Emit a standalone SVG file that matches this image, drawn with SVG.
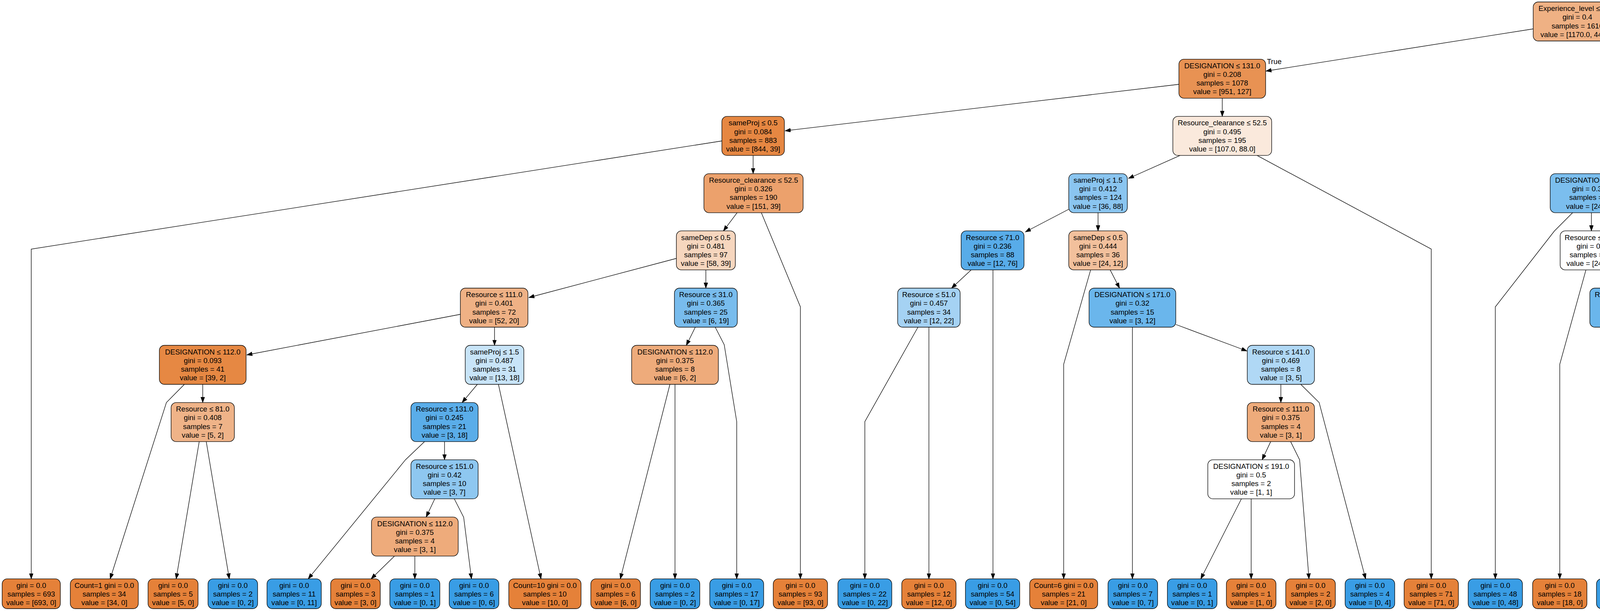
<svg xmlns="http://www.w3.org/2000/svg" width="5049" height="1565" viewBox="0 0 5049 1565">
<style>
.n rect{stroke:#000;stroke-width:1.33}
text{font-family:"Liberation Sans",Arial,Helvetica,sans-serif;font-size:18.67px;text-anchor:middle;fill:#000}
.e path{fill:none;stroke:#000;stroke-width:1.33;marker-end:url(#arr)}
.o{fill:#e58139}
.b{fill:#399de5}
.w{fill:#ffffff}
</style>
<defs>
<marker id="arr" markerUnits="userSpaceOnUse" markerWidth="15" markerHeight="11" refX="14" refY="5" orient="auto"><path d="M0,0 L14,5 L0,10 z" fill="#000" stroke="#000" stroke-width="1"/></marker>
</defs>
<rect x="0" y="0" width="5049" height="1565" fill="#ffffff"/>
<g id="edges" class="e">
<path d="M3925,74 L3241,182"/>
<path d="M4115,104 L4188,151"/>
<path d="M3018,216 L2010,335"/>
<path d="M3129,251.6 L3129,298.2"/>
<path d="M4267,251.6 L4267,298.2"/>
<path d="M4375,234 L4667,312"/>
<path d="M1848,361 L80,638 L80,1482.7"/>
<path d="M1928,398.2 L1928,444.8"/>
<path d="M3021,398.2 L2889,457"/>
<path d="M3218,398.2 L3664,638 L3664,1482.7"/>
<path d="M4202,398.2 L4140,444.8"/>
<path d="M4328,398.2 L4630,638 L4630,1482.7"/>
<path d="M4799,398.2 L4799,1482.7"/>
<path d="M4827,398.2 L4968,638 L4968,1482.7"/>
<path d="M1887,544.8 L1852,591.4"/>
<path d="M1949,544.8 L2049,786 L2049,1482.7"/>
<path d="M2736,536 L2625,594"/>
<path d="M2811,544.8 L2811,591.4"/>
<path d="M4026,544.8 L3979,592 L3828,786 L3828,1482.7"/>
<path d="M4074,544.8 L4074,591.4"/>
<path d="M1731,662 L1354,762"/>
<path d="M1807,691.4 L1807,738"/>
<path d="M2486,691.4 L2436,738"/>
<path d="M2542,691.4 L2542,1482.7"/>
<path d="M2792,691.4 L2723,933 L2723,1482.7"/>
<path d="M2842,691.4 L2866,738"/>
<path d="M4060,691.4 L3993,933 L3993,1482.7"/>
<path d="M4102,691.4 L4124,738"/>
<path d="M1179,805 L632,909"/>
<path d="M1266,838 L1266,884.5"/>
<path d="M1780,838 L1757,884.5"/>
<path d="M1831,838 L1854,883 L1886,1080 L1886,1482.7"/>
<path d="M2350,838 L2214,1080 L2214,1482.7"/>
<path d="M2378,838 L2378,1482.7"/>
<path d="M2899,838 L2899,1482.7"/>
<path d="M3010,831 L3192,899"/>
<path d="M4156,838 L4156,1482.7"/>
<path d="M4210,838 L4258,884.5"/>
<path d="M472,984.5 L426,1031 L282,1482.7"/>
<path d="M519,984.5 L519,1031.1"/>
<path d="M1222,984.5 L1183,1031.1"/>
<path d="M1276,984.5 L1385,1482.7"/>
<path d="M1715,984.5 L1588,1482.7"/>
<path d="M1728,984.5 L1728,1482.7"/>
<path d="M3279,984.5 L3279,1031.1"/>
<path d="M3330,984.5 L3377,1031 L3496,1482.7"/>
<path d="M4314,984.5 L4314,1482.7"/>
<path d="M4326,984.5 L4455,1482.7"/>
<path d="M510,1131.1 L451,1482.7"/>
<path d="M528,1131.1 L587,1482.7"/>
<path d="M1087,1131.1 L1038,1177.7 L789,1482.7"/>
<path d="M1138,1131.1 L1138,1177.7"/>
<path d="M3253,1131.1 L3231,1177.7"/>
<path d="M3304,1131.1 L3327,1177.7 L3351,1482.7"/>
<path d="M1113,1277.7 L1091,1324.3"/>
<path d="M1163,1277.7 L1187,1325 L1207,1482.7"/>
<path d="M3178,1277.7 L3074,1482.7"/>
<path d="M3203,1277.7 L3203,1482.7"/>
<path d="M1010,1424.3 L950,1482.7"/>
<path d="M1062,1424.3 L1062,1482.7"/>
</g>
<g id="edge-labels">
<text x="3262" y="164">True</text>
<text x="4182.5" y="126">False</text>
</g>
<g id="n0" class="n"><rect x="3925" y="5" width="226" height="100" rx="13" fill="#efb184"/><text x="4038" y="28.2">Experience_level ≤ 35.5</text><text x="4038" y="50.3">gini = 0.4</text><text x="4038" y="72.5">samples = 1616</text><text x="4038" y="94.7">value = [1170.0, 446.0]</text></g>
<g id="n1" class="n"><rect x="3018" y="151.6" width="222" height="100" rx="13" fill="#e89253"/><text x="3129" y="174.8">DESIGNATION ≤ 131.0</text><text x="3129" y="196.9">gini = 0.208</text><text x="3129" y="219.1">samples = 1078</text><text x="3129" y="241.3">value = [951, 127]</text></g>
<g id="n2" class="n"><rect x="4155" y="151.6" width="222" height="100" rx="13" fill="#c1e0f7"/><text x="4266" y="174.8">Experience_level ≤ 36.5</text><text x="4266" y="196.9">gini = 0.483</text><text x="4266" y="219.1">samples = 538</text><text x="4266" y="241.3">value = [219, 319]</text></g>
<g id="n3" class="n"><rect x="1848" y="298.2" width="160" height="100" rx="13" fill="#e68742"/><text x="1928" y="321.4">sameProj ≤ 0.5</text><text x="1928" y="343.5">gini = 0.084</text><text x="1928" y="365.7">samples = 883</text><text x="1928" y="387.9">value = [844, 39]</text></g>
<g id="n4" class="n"><rect x="3002.5" y="298.2" width="253" height="100" rx="13" fill="#fae9dc"/><text x="3129" y="321.4">Resource_clearance ≤ 52.5</text><text x="3129" y="343.5">gini = 0.495</text><text x="3129" y="365.7">samples = 195</text><text x="3129" y="387.9">value = [107.0, 88.0]</text></g>
<g id="n5" class="n"><rect x="4162.5" y="298.2" width="209" height="100" rx="13" fill="#4ca6e7"/><text x="4267" y="321.4">DESIGNATION ≤ 51.0</text><text x="4267" y="343.5">gini = 0.161</text><text x="4267" y="365.7">samples = 272</text><text x="4267" y="387.9">value = [24, 248]</text></g>
<g id="n6" class="n"><rect x="4672.5" y="298.2" width="253" height="100" rx="13" fill="#eeaf81"/><text x="4799" y="321.4">Resource_clearance ≤ 53.5</text><text x="4799" y="343.5">gini = 0.391</text><text x="4799" y="365.7">samples = 266</text><text x="4799" y="387.9">value = [195, 71]</text></g>
<g id="n7" class="n"><rect x="1802" y="444.8" width="254" height="100" rx="13" fill="#eca16c"/><text x="1929" y="468">Resource_clearance ≤ 52.5</text><text x="1929" y="490.1">gini = 0.326</text><text x="1929" y="512.3">samples = 190</text><text x="1929" y="534.5">value = [151, 39]</text></g>
<g id="n8" class="n"><rect x="2736" y="444.8" width="150" height="100" rx="13" fill="#8ac5f0"/><text x="2811" y="468">sameProj ≤ 1.5</text><text x="2811" y="490.1">gini = 0.412</text><text x="2811" y="512.3">samples = 124</text><text x="2811" y="534.5">value = [36, 88]</text></g>
<g id="n9" class="n"><rect x="3968.5" y="444.8" width="209" height="100" rx="13" fill="#7bbeee"/><text x="4073" y="468">DESIGNATION ≤ 31.0</text><text x="4073" y="490.1">gini = 0.375</text><text x="4073" y="512.3">samples = 96</text><text x="4073" y="534.5">value = [24, 72]</text></g>
<g id="n10" class="n"><rect x="1731.5" y="591.4" width="151" height="100" rx="13" fill="#f6d6be"/><text x="1807" y="614.6">sameDep ≤ 0.5</text><text x="1807" y="636.7">gini = 0.481</text><text x="1807" y="658.9">samples = 97</text><text x="1807" y="681.1">value = [58, 39]</text></g>
<g id="n11" class="n"><rect x="2460.5" y="591.4" width="161" height="100" rx="13" fill="#58ace9"/><text x="2541" y="614.6">Resource ≤ 71.0</text><text x="2541" y="636.7">gini = 0.236</text><text x="2541" y="658.9">samples = 88</text><text x="2541" y="681.1">value = [12, 76]</text></g>
<g id="n12" class="n"><rect x="2736" y="591.4" width="150" height="100" rx="13" fill="#f2c09c"/><text x="2811" y="614.6">sameDep ≤ 0.5</text><text x="2811" y="636.7">gini = 0.444</text><text x="2811" y="658.9">samples = 36</text><text x="2811" y="681.1">value = [24, 12]</text></g>
<g id="n13" class="n"><rect x="3994" y="591.4" width="160" height="100" rx="13" class="w"/><text x="4074" y="614.6">Resource ≤ 71.0</text><text x="4074" y="636.7">gini = 0.5</text><text x="4074" y="658.9">samples = 48</text><text x="4074" y="681.1">value = [24, 24]</text></g>
<g id="n14" class="n"><rect x="1178.5" y="738" width="173" height="100" rx="13" fill="#efb185"/><text x="1265" y="761.2">Resource ≤ 111.0</text><text x="1265" y="783.3">gini = 0.401</text><text x="1265" y="805.5">samples = 72</text><text x="1265" y="827.7">value = [52, 20]</text></g>
<g id="n15" class="n"><rect x="1726.5" y="738" width="161" height="100" rx="13" fill="#78bced"/><text x="1807" y="761.2">Resource ≤ 31.0</text><text x="1807" y="783.3">gini = 0.365</text><text x="1807" y="805.5">samples = 25</text><text x="1807" y="827.7">value = [6, 19]</text></g>
<g id="n16" class="n"><rect x="2298" y="738" width="160" height="100" rx="13" fill="#a5d2f3"/><text x="2378" y="761.2">Resource ≤ 51.0</text><text x="2378" y="783.3">gini = 0.457</text><text x="2378" y="805.5">samples = 34</text><text x="2378" y="827.7">value = [12, 22]</text></g>
<g id="n17" class="n"><rect x="2788" y="738" width="222" height="100" rx="13" fill="#6ab6ec"/><text x="2899" y="761.2">DESIGNATION ≤ 171.0</text><text x="2899" y="783.3">gini = 0.32</text><text x="2899" y="805.5">samples = 15</text><text x="2899" y="827.7">value = [3, 12]</text></g>
<g id="n18" class="n"><rect x="4070" y="738" width="172" height="100" rx="13" fill="#6ab6ec"/><text x="4156" y="761.2">Resource ≤ 131.0</text><text x="4156" y="783.3">gini = 0.32</text><text x="4156" y="805.5">samples = 30</text><text x="4156" y="827.7">value = [6, 24]</text></g>
<g id="n19" class="n"><rect x="408" y="884.5" width="222" height="100" rx="13" fill="#e68843"/><text x="519" y="907.7">DESIGNATION ≤ 112.0</text><text x="519" y="929.8">gini = 0.093</text><text x="519" y="952">samples = 41</text><text x="519" y="974.2">value = [39, 2]</text></g>
<g id="n20" class="n"><rect x="1191" y="884.5" width="150" height="100" rx="13" fill="#c8e4f8"/><text x="1266" y="907.7">sameProj ≤ 1.5</text><text x="1266" y="929.8">gini = 0.487</text><text x="1266" y="952">samples = 31</text><text x="1266" y="974.2">value = [13, 18]</text></g>
<g id="n21" class="n"><rect x="1617" y="884.5" width="222" height="100" rx="13" fill="#eeab7b"/><text x="1728" y="907.7">DESIGNATION ≤ 112.0</text><text x="1728" y="929.8">gini = 0.375</text><text x="1728" y="952">samples = 8</text><text x="1728" y="974.2">value = [6, 2]</text></g>
<g id="n22" class="n"><rect x="3193" y="884.5" width="172" height="100" rx="13" fill="#b0d8f5"/><text x="3279" y="907.7">Resource ≤ 141.0</text><text x="3279" y="929.8">gini = 0.469</text><text x="3279" y="952">samples = 8</text><text x="3279" y="974.2">value = [3, 5]</text></g>
<g id="n23" class="n"><rect x="4227" y="884.5" width="172" height="100" rx="13" class="w"/><text x="4313" y="907.7">Resource ≤ 151.0</text><text x="4313" y="929.8">gini = 0.5</text><text x="4313" y="952">samples = 12</text><text x="4313" y="974.2">value = [6, 6]</text></g>
<g id="n24" class="n"><rect x="438" y="1031.1" width="162" height="100" rx="13" fill="#efb388"/><text x="519" y="1054.3">Resource ≤ 81.0</text><text x="519" y="1076.4">gini = 0.408</text><text x="519" y="1098.6">samples = 7</text><text x="519" y="1120.8">value = [5, 2]</text></g>
<g id="n25" class="n"><rect x="1052" y="1031.1" width="172" height="100" rx="13" fill="#5aade9"/><text x="1138" y="1054.3">Resource ≤ 131.0</text><text x="1138" y="1076.4">gini = 0.245</text><text x="1138" y="1098.6">samples = 21</text><text x="1138" y="1120.8">value = [3, 18]</text></g>
<g id="n26" class="n"><rect x="3193" y="1031.1" width="172" height="100" rx="13" fill="#eeab7b"/><text x="3279" y="1054.3">Resource ≤ 111.0</text><text x="3279" y="1076.4">gini = 0.375</text><text x="3279" y="1098.6">samples = 4</text><text x="3279" y="1120.8">value = [3, 1]</text></g>
<g id="n27" class="n"><rect x="1052" y="1177.7" width="172" height="100" rx="13" fill="#8ec7f0"/><text x="1138" y="1200.9">Resource ≤ 151.0</text><text x="1138" y="1223">gini = 0.42</text><text x="1138" y="1245.2">samples = 10</text><text x="1138" y="1267.4">value = [3, 7]</text></g>
<g id="n28" class="n"><rect x="3092" y="1177.7" width="222" height="100" rx="13" class="w"/><text x="3203" y="1200.9">DESIGNATION ≤ 191.0</text><text x="3203" y="1223">gini = 0.5</text><text x="3203" y="1245.2">samples = 2</text><text x="3203" y="1267.4">value = [1, 1]</text></g>
<g id="n29" class="n"><rect x="951" y="1324.3" width="222" height="100" rx="13" fill="#eeab7b"/><text x="1062" y="1347.5">DESIGNATION ≤ 112.0</text><text x="1062" y="1369.6">gini = 0.375</text><text x="1062" y="1391.8">samples = 4</text><text x="1062" y="1414">value = [3, 1]</text></g>
<g id="n30" class="n"><rect x="5.5" y="1482.7" width="149" height="76.3" rx="13" class="o"/><text x="80" y="1506">gini = 0.0</text><text x="80" y="1528.2">samples = 693</text><text x="80" y="1550.4">value = [693, 0]</text></g>
<g id="n31" class="n"><rect x="180" y="1482.7" width="174" height="76.3" rx="13" class="o"/><text x="267" y="1506">Count=1 gini = 0.0</text><text x="267" y="1528.2">samples = 34</text><text x="267" y="1550.4">value = [34, 0]</text></g>
<g id="n32" class="n"><rect x="379" y="1482.7" width="128" height="76.3" rx="13" class="o"/><text x="443" y="1506">gini = 0.0</text><text x="443" y="1528.2">samples = 5</text><text x="443" y="1550.4">value = [5, 0]</text></g>
<g id="n33" class="n"><rect x="532.5" y="1482.7" width="127" height="76.3" rx="13" class="b"/><text x="596" y="1506">gini = 0.0</text><text x="596" y="1528.2">samples = 2</text><text x="596" y="1550.4">value = [0, 2]</text></g>
<g id="n34" class="n"><rect x="683.5" y="1482.7" width="139" height="76.3" rx="13" class="b"/><text x="753" y="1506">gini = 0.0</text><text x="753" y="1528.2">samples = 11</text><text x="753" y="1550.4">value = [0, 11]</text></g>
<g id="n35" class="n"><rect x="846.5" y="1482.7" width="127" height="76.3" rx="13" class="o"/><text x="910" y="1506">gini = 0.0</text><text x="910" y="1528.2">samples = 3</text><text x="910" y="1550.4">value = [3, 0]</text></g>
<g id="n36" class="n"><rect x="998" y="1482.7" width="128" height="76.3" rx="13" class="b"/><text x="1062" y="1506">gini = 0.0</text><text x="1062" y="1528.2">samples = 1</text><text x="1062" y="1550.4">value = [0, 1]</text></g>
<g id="n37" class="n"><rect x="1150" y="1482.7" width="127" height="76.3" rx="13" class="b"/><text x="1213.5" y="1506">gini = 0.0</text><text x="1213.5" y="1528.2">samples = 6</text><text x="1213.5" y="1550.4">value = [0, 6]</text></g>
<g id="n38" class="n"><rect x="1302.5" y="1482.7" width="185" height="76.3" rx="13" class="o"/><text x="1395" y="1506">Count=10 gini = 0.0</text><text x="1395" y="1528.2">samples = 10</text><text x="1395" y="1550.4">value = [10, 0]</text></g>
<g id="n39" class="n"><rect x="1512.5" y="1482.7" width="127" height="76.3" rx="13" class="o"/><text x="1576" y="1506">gini = 0.0</text><text x="1576" y="1528.2">samples = 6</text><text x="1576" y="1550.4">value = [6, 0]</text></g>
<g id="n40" class="n"><rect x="1664.5" y="1482.7" width="127" height="76.3" rx="13" class="b"/><text x="1728" y="1506">gini = 0.0</text><text x="1728" y="1528.2">samples = 2</text><text x="1728" y="1550.4">value = [0, 2]</text></g>
<g id="n41" class="n"><rect x="1817" y="1482.7" width="138" height="76.3" rx="13" class="b"/><text x="1886" y="1506">gini = 0.0</text><text x="1886" y="1528.2">samples = 17</text><text x="1886" y="1550.4">value = [0, 17]</text></g>
<g id="n42" class="n"><rect x="1979.5" y="1482.7" width="139" height="76.3" rx="13" class="o"/><text x="2049" y="1506">gini = 0.0</text><text x="2049" y="1528.2">samples = 93</text><text x="2049" y="1550.4">value = [93, 0]</text></g>
<g id="n43" class="n"><rect x="2145" y="1482.7" width="138" height="76.3" rx="13" class="b"/><text x="2214" y="1506">gini = 0.0</text><text x="2214" y="1528.2">samples = 22</text><text x="2214" y="1550.4">value = [0, 22]</text></g>
<g id="n44" class="n"><rect x="2308.5" y="1482.7" width="139" height="76.3" rx="13" class="o"/><text x="2378" y="1506">gini = 0.0</text><text x="2378" y="1528.2">samples = 12</text><text x="2378" y="1550.4">value = [12, 0]</text></g>
<g id="n45" class="n"><rect x="2471.5" y="1482.7" width="139" height="76.3" rx="13" class="b"/><text x="2541" y="1506">gini = 0.0</text><text x="2541" y="1528.2">samples = 54</text><text x="2541" y="1550.4">value = [0, 54]</text></g>
<g id="n46" class="n"><rect x="2636" y="1482.7" width="174" height="76.3" rx="13" class="o"/><text x="2723" y="1506">Count=6 gini = 0.0</text><text x="2723" y="1528.2">samples = 21</text><text x="2723" y="1550.4">value = [21, 0]</text></g>
<g id="n47" class="n"><rect x="2836.5" y="1482.7" width="127" height="76.3" rx="13" class="b"/><text x="2900" y="1506">gini = 0.0</text><text x="2900" y="1528.2">samples = 7</text><text x="2900" y="1550.4">value = [0, 7]</text></g>
<g id="n48" class="n"><rect x="2988.5" y="1482.7" width="127" height="76.3" rx="13" class="b"/><text x="3052" y="1506">gini = 0.0</text><text x="3052" y="1528.2">samples = 1</text><text x="3052" y="1550.4">value = [0, 1]</text></g>
<g id="n49" class="n"><rect x="3139.5" y="1482.7" width="127" height="76.3" rx="13" class="o"/><text x="3203" y="1506">gini = 0.0</text><text x="3203" y="1528.2">samples = 1</text><text x="3203" y="1550.4">value = [1, 0]</text></g>
<g id="n50" class="n"><rect x="3291.5" y="1482.7" width="127" height="76.3" rx="13" class="o"/><text x="3355" y="1506">gini = 0.0</text><text x="3355" y="1528.2">samples = 2</text><text x="3355" y="1550.4">value = [2, 0]</text></g>
<g id="n51" class="n"><rect x="3443.5" y="1482.7" width="127" height="76.3" rx="13" class="b"/><text x="3507" y="1506">gini = 0.0</text><text x="3507" y="1528.2">samples = 4</text><text x="3507" y="1550.4">value = [0, 4]</text></g>
<g id="n52" class="n"><rect x="3594.5" y="1482.7" width="139" height="76.3" rx="13" class="o"/><text x="3664" y="1506">gini = 0.0</text><text x="3664" y="1528.2">samples = 71</text><text x="3664" y="1550.4">value = [71, 0]</text></g>
<g id="n53" class="n"><rect x="3758.5" y="1482.7" width="139" height="76.3" rx="13" class="b"/><text x="3828" y="1506">gini = 0.0</text><text x="3828" y="1528.2">samples = 48</text><text x="3828" y="1550.4">value = [0, 48]</text></g>
<g id="n54" class="n"><rect x="3923.5" y="1482.7" width="139" height="76.3" rx="13" class="o"/><text x="3993" y="1506">gini = 0.0</text><text x="3993" y="1528.2">samples = 18</text><text x="3993" y="1550.4">value = [18, 0]</text></g>
<g id="n55" class="n"><rect x="4087" y="1482.7" width="138" height="76.3" rx="13" class="b"/><text x="4156" y="1506">gini = 0.0</text><text x="4156" y="1528.2">samples = 18</text><text x="4156" y="1550.4">value = [0, 18]</text></g>
<g id="n56" class="n"><rect x="4250.5" y="1482.7" width="127" height="76.3" rx="13" class="o"/><text x="4314" y="1506">gini = 0.0</text><text x="4314" y="1528.2">samples = 6</text><text x="4314" y="1550.4">value = [6, 0]</text></g>
<g id="n57" class="n"><rect x="4402.5" y="1482.7" width="127" height="76.3" rx="13" class="b"/><text x="4466" y="1506">gini = 0.0</text><text x="4466" y="1528.2">samples = 6</text><text x="4466" y="1550.4">value = [0, 6]</text></g>
<g id="n58" class="n"><rect x="4555.5" y="1482.7" width="149" height="76.3" rx="13" class="b"/><text x="4630" y="1506">gini = 0.0</text><text x="4630" y="1528.2">samples = 176</text><text x="4630" y="1550.4">value = [0, 176]</text></g>
<g id="n59" class="n"><rect x="4729.5" y="1482.7" width="139" height="76.3" rx="13" class="b"/><text x="4799" y="1506">gini = 0.0</text><text x="4799" y="1528.2">samples = 71</text><text x="4799" y="1550.4">value = [0, 71]</text></g>
<g id="n60" class="n"><rect x="4894.5" y="1482.7" width="149" height="76.3" rx="13" class="o"/><text x="4969" y="1506">gini = 0.0</text><text x="4969" y="1528.2">samples = 195</text><text x="4969" y="1550.4">value = [195, 0]</text></g>
</svg>
